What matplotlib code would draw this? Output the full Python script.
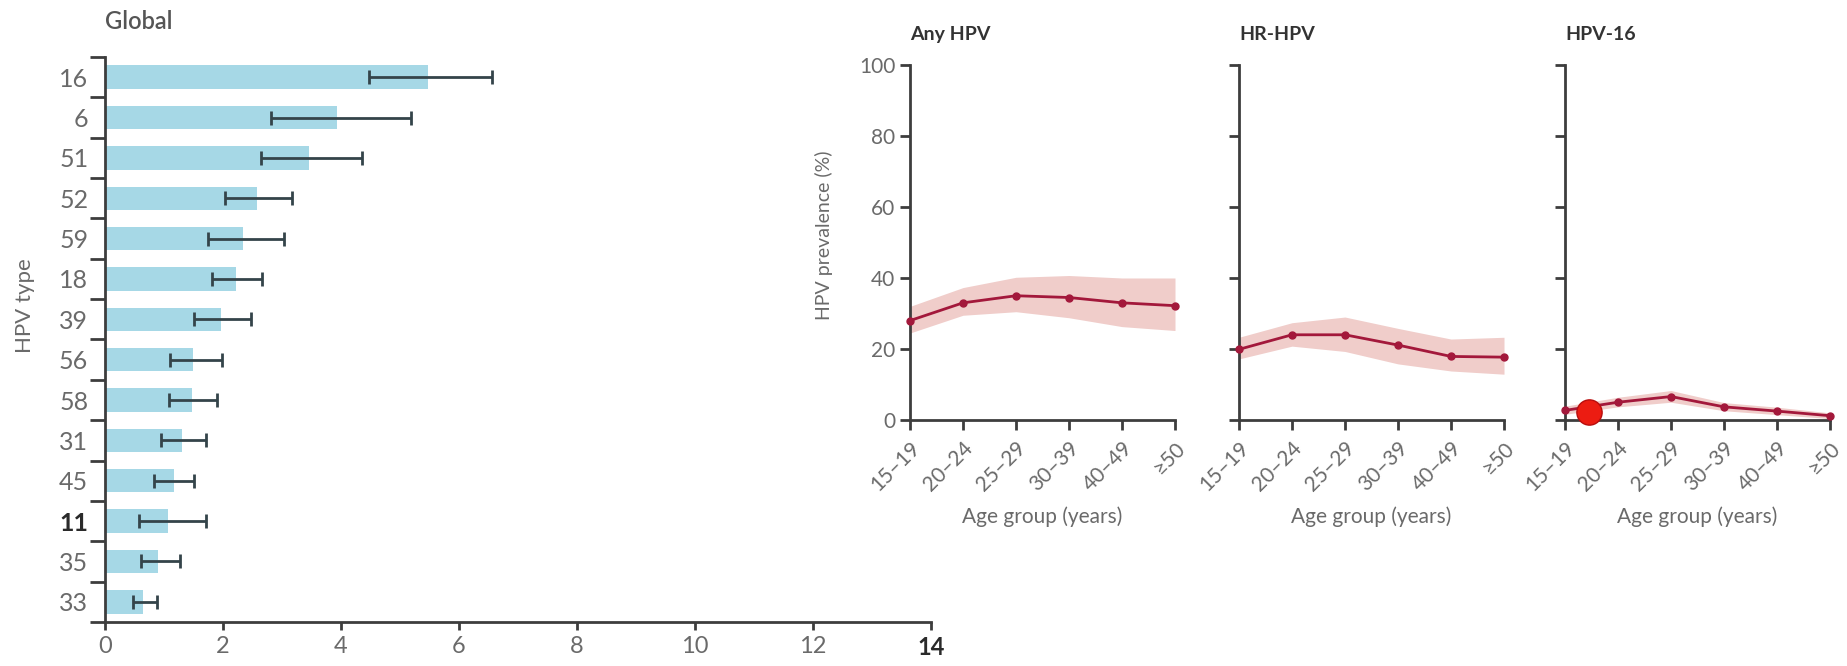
import matplotlib
matplotlib.use("Agg")
import matplotlib.pyplot as plt
import numpy

plt.rcParams['font.family'] = ['Lato', 'DejaVu Sans']

# left panel: global type-specific prevalence
hpv_types = ['16', '6', '51', '52', '59', '18', '39', '56', '58', '31', '45', '11', '35', '33']
type_prev = [5.47, 3.93, 3.46, 2.58, 2.34, 2.22, 1.97, 1.50, 1.47, 1.30, 1.17, 1.07, 0.90, 0.65]
type_low = [4.47, 2.81, 2.65, 2.04, 1.75, 1.81, 1.51, 1.10, 1.08, 0.95, 0.83, 0.58, 0.61, 0.48]
type_high = [6.56, 5.19, 4.35, 3.17, 3.03, 2.67, 2.47, 1.98, 1.90, 1.71, 1.51, 1.71, 1.27, 0.88]
bar_ticks = [0, 2, 4, 6, 8, 10, 12, 14]

# right panels: prevalence by age group
age_groups = ['15–19', '20–24', '25–29', '30–39', '40–49', '≥50']
panel_titles = ['Any HPV', 'HR-HPV', 'HPV-16']
any_prev = [28.0, 33.0, 35.0, 34.5, 33.0, 32.2]
any_low = [24.5, 29.5, 30.5, 28.8, 26.3, 25.2]
any_high = [32.0, 37.3, 40.2, 40.7, 40.0, 40.0]
hr_prev = [19.9, 24.0, 24.0, 21.1, 17.9, 17.7]
hr_low = [17.2, 20.8, 19.3, 15.8, 13.8, 12.9]
hr_high = [23.3, 27.4, 29.0, 25.8, 22.8, 23.3]
h16_prev = [2.7, 5.0, 6.6, 3.7, 2.5, 1.2]
h16_low = [1.6, 3.7, 5.0, 2.6, 1.5, 0.4]
h16_high = [3.9, 6.4, 8.3, 4.9, 3.6, 2.0]
prev_ticks = [0, 20, 40, 60, 80, 100]

# the big red dot sitting on the HPV-16 panel
dot_x = 0.45
dot_y = 2.3

TICK_GREY = '#6a6a6a'
AXIS_GREY = '#3d3d3d'


def draw_bars(ax):
    y = numpy.arange(len(hpv_types))
    prev = numpy.array(type_prev)
    xerr = [prev - numpy.array(type_low), numpy.array(type_high) - prev]
    ax.barh(y, prev, height=0.58, color='#a6d8e6', zorder=1)
    ax.errorbar(prev, y, xerr=xerr, fmt='none', ecolor='#34444a',
                elinewidth=2, capsize=5, capthick=2, zorder=2)

    ax.set_xlim(0, 14)
    ax.set_ylim(len(hpv_types) - 0.5, -0.5)
    ax.set_xticks(bar_ticks)
    ax.set_yticks(y)
    ax.set_yticklabels(hpv_types)
    ax.set_yticks(numpy.arange(-0.5, len(hpv_types)), minor=True)

    for s in ['top', 'right']:
        ax.spines[s].set_visible(False)
    for s in ['left', 'bottom']:
        ax.spines[s].set_color(AXIS_GREY)
        ax.spines[s].set_linewidth(2)
    ax.tick_params(axis='y', which='major', length=0, pad=12,
                   labelsize=18, labelcolor=TICK_GREY)
    ax.tick_params(axis='y', which='minor', length=11, width=2, color=AXIS_GREY)
    ax.tick_params(axis='x', length=6, width=2, color=AXIS_GREY,
                   labelsize=17, labelcolor=TICK_GREY, pad=4)

    # "11" and "14" come out darker and bolder in the source
    for lbl in ax.get_yticklabels():
        if lbl.get_text() == '11':
            lbl.set_fontweight('bold')
            lbl.set_color('#2a2a2a')
    for lbl in ax.get_xticklabels():
        if lbl.get_text() == '14':
            lbl.set_fontweight('bold')
            lbl.set_color('#2a2a2a')

    ax.set_ylabel('HPV type', fontsize=16, color=TICK_GREY)
    ax.yaxis.set_label_coords(-0.085, 0.56)
    ax.set_title('Global', loc='left', fontsize=17, fontweight='semibold',
                 color='#555555', pad=20)


def draw_age_panel(ax, title, prev, low, high, first):
    x = numpy.arange(len(age_groups))
    ax.fill_between(x, low, high, color='#f0cdca', linewidth=0, zorder=1)
    ax.plot(x, prev, color='#a3183b', linewidth=2, marker='o', markersize=5,
            zorder=3, clip_on=False)

    ax.set_xlim(0, len(age_groups) - 1)
    ax.set_ylim(0, 100)
    ax.set_xticks(x)
    ax.set_xticklabels(age_groups, rotation=45, ha='right',
                       rotation_mode='anchor')
    ax.set_yticks(prev_ticks)
    if not first:
        ax.set_yticklabels([])

    for s in ['top', 'right']:
        ax.spines[s].set_visible(False)
    for s in ['left', 'bottom']:
        ax.spines[s].set_color(AXIS_GREY)
        ax.spines[s].set_linewidth(2)
    ax.tick_params(axis='both', length=7, width=2, color=AXIS_GREY,
                   labelsize=15, labelcolor=TICK_GREY)
    ax.tick_params(axis='x', pad=6)

    ax.set_xlabel('Age group (years)', fontsize=15, color=TICK_GREY, labelpad=8)
    if first:
        ax.set_ylabel('HPV prevalence (%)', fontsize=14, color=TICK_GREY)
        ax.yaxis.set_label_coords(-0.29, 0.52)
    ax.set_title(title, loc='left', fontsize=14, fontweight='bold',
                 color='#333333', pad=18)


def main():
    fig = plt.figure(figsize=(18.47, 6.66), dpi=100)

    ax_bar = fig.add_axes([0.0568, 0.0661, 0.4472, 0.8483])
    draw_bars(ax_bar)

    panels = [(any_prev, any_low, any_high),
              (hr_prev, hr_low, hr_high),
              (h16_prev, h16_low, h16_high)]
    lefts = [910 / 1847, 1239 / 1847, 1565 / 1847]
    axes = []
    for i, (prev, low, high) in enumerate(panels):
        ax = fig.add_axes([lefts[i], 0.3694, 265 / 1847, 0.533])
        draw_age_panel(ax, panel_titles[i], prev, low, high, i == 0)
        axes.append(ax)

    axes[2].scatter([dot_x], [dot_y], s=330, color='#ec1c12',
                    edgecolor='#b80d0d', linewidth=1, zorder=5, clip_on=False)

    fig.savefig('out.png', dpi=100, facecolor='white')


if __name__ == "__main__":
    main()
